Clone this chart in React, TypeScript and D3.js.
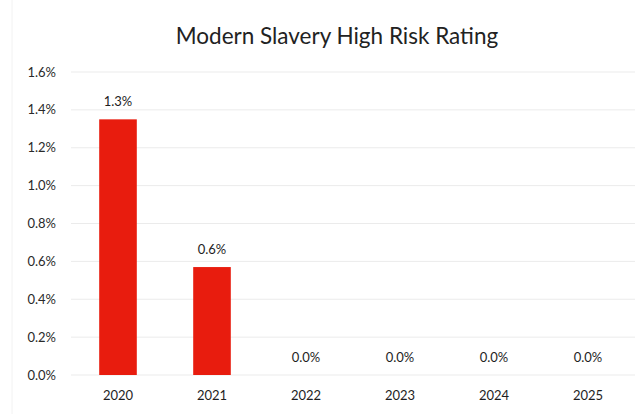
import { scaleBand, scaleLinear } from "d3";

const years = ["2020", "2021", "2022", "2023", "2024", "2025"];
const highRisk = [0.0135, 0.0057, 0, 0, 0, 0];
const valueLabels = ["1.3%", "0.6%", "0.0%", "0.0%", "0.0%", "0.0%"];
const yTicks = [0, 0.002, 0.004, 0.006, 0.008, 0.01, 0.012, 0.014, 0.016];

const W = 638;
const H = 414;
const font = "Lato, 'Open Sans', sans-serif";

export default function App() {
  const x = scaleBand<string>()
    .domain(years)
    .range([71, 635])
    .paddingInner(0.6)
    .paddingOuter(0.3);
  const y = scaleLinear().domain([0, 0.016]).range([375, 72]);

  return (
    <svg
      width={W}
      height={H}
      style={{ position: "absolute", left: 0, top: 0, background: "#fff" }}
      fontFamily={font}
    >
      <line x1={12} x2={12} y1={0} y2={H} stroke="#f2f2f2" />
      <text x={337} y={44} textAnchor="middle" fontSize={22.5} fill="#222">
        Modern Slavery High Risk Rating
      </text>
      {yTicks.map((t) => (
        <g key={t}>
          <line x1={71} x2={635} y1={y(t)} y2={y(t)} stroke="#ebebeb" />
          <text
            x={56}
            y={y(t)}
            dy="0.35em"
            textAnchor="end"
            fontSize={13}
            fill="#2a2a2a"
          >
            {(t * 100).toFixed(1)}%
          </text>
        </g>
      ))}
      {years.map((yr, i) => {
        const bx = x(yr) ?? 0;
        const cx = bx + x.bandwidth() / 2;
        return (
          <g key={yr}>
            {highRisk[i] > 0 && (
              <rect
                x={bx}
                y={y(highRisk[i])}
                width={x.bandwidth()}
                height={y(0) - y(highRisk[i])}
                fill="#e81c0e"
              />
            )}
            <text
              x={cx}
              y={y(highRisk[i]) - 13}
              textAnchor="middle"
              fontSize={13}
              fill="#1e1e1e"
            >
              {valueLabels[i]}
            </text>
            <text
              x={cx}
              y={400}
              textAnchor="middle"
              fontSize={13}
              fill="#1e1e1e"
            >
              {yr}
            </text>
          </g>
        );
      })}
    </svg>
  );
}
